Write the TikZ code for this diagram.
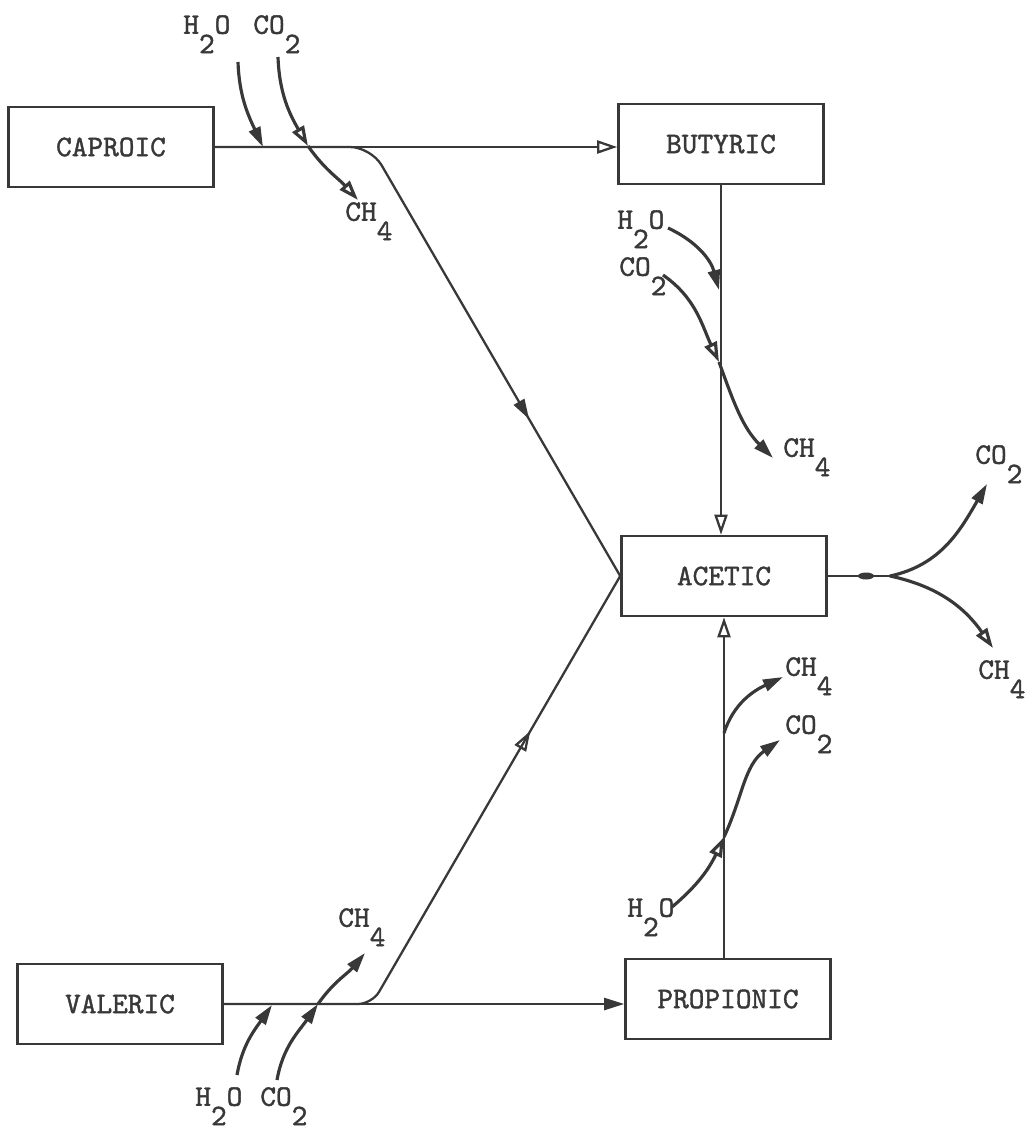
\documentclass[tikz,border=0pt]{standalone}
\usepackage{fontspec}
\usepackage{xcolor}
\usepackage{tikz}
\usetikzlibrary{arrows.meta, decorations.markings}
\newfontfamily\typer{lmmono10-regular}[Extension=.otf, FakeBold=1.3]
\definecolor{ink}{HTML}{383838}
\newcommand{\dn}[1]{\raisebox{-0.65em}{#1}}

\begin{document}
\begin{tikzpicture}[
  x=0.02cm, y=0.02cm,
  font=\typer\fontsize{17}{20}\selectfont,
  acid/.style={draw=ink, line width=1.5pt, text=ink, minimum width=4.1cm,
               minimum height=1.6cm, inner sep=0pt},
  gas/.style={text=ink, inner sep=0pt, anchor=mid west},
  flow/.style={draw=ink, line width=1.3pt},
  feed/.style={draw=ink, line width=1.8pt},
  opentip/.style={-{Triangle[open, length=4mm, width=2.6mm]}},
  fulltip/.style={-{Triangle[length=4mm, width=2.4mm]}},
  midfull/.style={postaction={decorate}, decoration={markings,
      mark=at position #1 with {\arrow{Triangle[length=4mm, width=2.4mm]}}}},
  midopen/.style={postaction={decorate}, decoration={markings,
      mark=at position #1 with {\arrow{Triangle[open, length=4mm, width=2.6mm]}}}},
]
\useasboundingbox (0,0) rectangle (1027,-1146);

% acids
\node[acid] (caproic) at (111,-147) {CAPROIC};
\node[acid] (butyric) at (721,-144) {BUTYRIC};
\node[acid] (acetic) at (724,-576) {ACETIC};
\node[acid] (propionic) at (728,-999) {PROPIONIC};
\node[acid] (valeric) at (120,-1004) {VALERIC};

% gases
\node[gas] (cwater) at (183,-30) {H\dn{2}O};
\node[gas] (cdiox) at (253,-30) {CO\dn{2}};
\node[gas] (cmeth) at (345,-217) {CH\dn{4}};
\node[gas] (bwater) at (617,-225) {H\dn{2}O};
\node[gas] (bdiox) at (619,-272) {CO\dn{2}};
\node[gas] (bmeth) at (783,-453) {CH\dn{4}};
\node[gas] (adiox) at (975,-460) {CO\dn{2}};
\node[gas] (ameth) at (978,-675) {CH\dn{4}};
\node[gas] (pmeth) at (785,-672) {CH\dn{4}};
\node[gas] (pdiox) at (785,-730) {CO\dn{2}};
\node[gas] (pwater) at (627,-913) {H\dn{2}O};
\node[gas] (vmeth) at (338,-923) {CH\dn{4}};
\node[gas] (vwater) at (195,-1102) {H\dn{2}O};
\node[gas] (vdiox) at (260,-1102) {CO\dn{2}};

% main flows
\draw[flow, opentip] (caproic.east) -- (caproic.east -| butyric.west);
\draw[flow, rounded corners=12pt, midfull=0.72] (caproic.east) -- (371,-147) -- (acetic.west);
\draw[flow, opentip] (butyric.south) -- (butyric.south |- acetic.north);
\draw[flow, fulltip] (valeric.east) -- (valeric.east -| propionic.west);
\draw[flow, rounded corners=8pt, midopen=0.72] (valeric.east) -- (372,-1004) -- (acetic.west);
\draw[flow, opentip] (propionic.north -| acetic.south) -- (acetic.south);

% caproic -> butyric
\coordinate (cw0) at (238,-62);
\coordinate (cw1) at (263,-147);
\coordinate (cd0) at (278,-57);
\coordinate (cd1) at (308,-146);
\coordinate (cd2) at (358,-200);
\draw[feed, fulltip] (cw0) to[out=-88, in=115] (cw1);
\draw[feed, opentip] (cd0) to[out=-88, in=120] (cd1);
\draw[feed, opentip] (cd1) to[out=-55, in=132] (cd2);

% butyric -> acetic
\coordinate (bw0) at (668,-228);
\coordinate (bw1) at (719,-290);
\coordinate (bd0) at (663,-275);
\coordinate (bd1) at (719,-362);
\coordinate (bd2) at (773,-458);
\draw[feed, fulltip] (bw0) to[out=-25, in=105] (bw1);
\draw[feed, opentip] (bd0) to[out=-35, in=115] (bd1);
\draw[feed, fulltip] (bd1) to[out=-70, in=135] (bd2);

% acetic split
\coordinate (afork) at (890,-576);
\coordinate (ad1) at (987,-484);
\coordinate (am1) at (993,-648);
\draw[flow] (acetic.east) -- (afork);
\fill[ink] (866,-576) ellipse (8 and 3.5);
\draw[feed, fulltip] (afork) to[out=12, in=-120] (ad1);
\draw[feed, opentip] (afork) to[out=-12, in=125] (am1);

% propionic -> acetic
\coordinate (pm0) at (724,-733);
\coordinate (pm1) at (783,-677);
\coordinate (pw0) at (672,-907);
\coordinate (pw1) at (724,-837);
\coordinate (pd2) at (780,-740);
\draw[feed, fulltip] (pm0) to[out=72, in=-155] (pm1);
\draw[feed, opentip] (pw0) to[out=40, in=-115] (pw1);
\draw[feed, fulltip] (pw1) to[out=65, in=-145] (pd2);

% valeric -> propionic
\coordinate (vw0) at (237,-1075);
\coordinate (vw1) at (272,-1005);
\coordinate (vd0) at (277,-1080);
\coordinate (vd1) at (318,-1004);
\coordinate (vd2) at (365,-953);
\draw[feed, fulltip] (vw0) to[out=80, in=-125] (vw1);
\draw[feed, fulltip] (vd0) to[out=80, in=-125] (vd1);
\draw[feed, fulltip] (vd1) to[out=55, in=-130] (vd2);
\end{tikzpicture}
\end{document}
